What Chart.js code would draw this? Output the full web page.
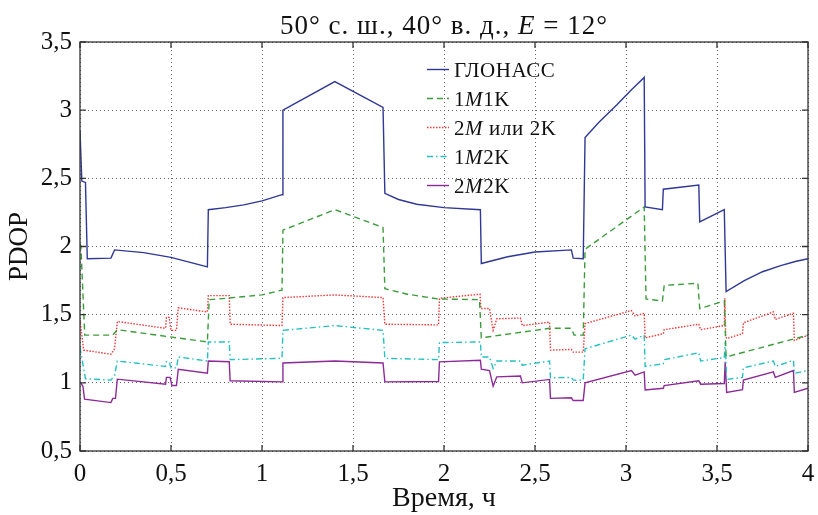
<!DOCTYPE html>
<html lang="ru">
<head>
  <meta charset="UTF-8" />
  <title>PDOP</title>
  <script src="https://cdn.jsdelivr.net/npm/chart.js"></script>
  <style>
    html, body { margin: 0; padding: 0; background: #fff; }
    #wrap { width: 818px; height: 515px; }
  </style>
</head>
<body>
  <div id="wrap"><canvas id="pdopChart" width="818" height="515"></canvas></div>

  <script>
    // time (h) and PDOP value pairs for every constellation variant
    const glonass = [
      [0, 2.85], [0.01, 2.48], [0.03, 2.47], [0.04, 1.91], [0.17, 1.915], [0.19, 1.975],
      [0.35, 1.955], [0.5, 1.92], [0.7, 1.85], [0.705, 2.27], [0.8, 2.285], [0.9, 2.305],
      [1.0, 2.335], [1.11, 2.38], [1.115, 3.0], [1.4, 3.21], [1.665, 3.02], [1.675, 2.39],
      [1.75, 2.345], [1.85, 2.31], [2.0, 2.285], [2.2, 2.27], [2.205, 1.875], [2.35, 1.925], [2.5, 1.96],
      [2.7, 1.975], [2.71, 1.915], [2.765, 1.91], [2.775, 2.8], [2.85, 2.91], [2.95, 3.04],
      [3.03, 3.15], [3.1, 3.24], [3.105, 2.29], [3.2, 2.27], [3.205, 2.42], [3.4, 2.45],
      [3.405, 2.18], [3.54, 2.27], [3.55, 1.67], [3.65, 1.75], [3.75, 1.815], [3.85, 1.86],
      [3.93, 1.89], [4.0, 1.91]
    ];
    const m1k1 = [
      [0, 2.02], [0.005, 2.0], [0.026, 1.35], [0.18, 1.35], [0.205, 1.39], [0.45, 1.345],
      [0.7, 1.30], [0.71, 1.61], [0.8, 1.62], [1.0, 1.645], [1.11, 1.68], [1.115, 2.12],
      [1.4, 2.27], [1.665, 2.14], [1.675, 1.69], [1.8, 1.65], [1.97, 1.615], [2.195, 1.61],
      [2.205, 1.33], [2.58, 1.40], [2.7, 1.40], [2.715, 1.35], [2.765, 1.35], [2.775, 1.98],
      [3.1, 2.29], [3.11, 1.615], [3.2, 1.60], [3.21, 1.715], [3.395, 1.73], [3.405, 1.545],
      [3.54, 1.60], [3.55, 1.19], [4.0, 1.35]
    ];
    const m2k2 = [
      [0, 1.46], [0.02, 1.24], [0.17, 1.21], [0.19, 1.25], [0.205, 1.45], [0.47, 1.40],
      [0.475, 1.48], [0.49, 1.48], [0.5, 1.385], [0.53, 1.385], [0.54, 1.55], [0.7, 1.52],
      [0.705, 1.64], [0.82, 1.64], [0.825, 1.43], [1.11, 1.42], [1.115, 1.625], [1.4, 1.645],
      [1.665, 1.625], [1.675, 1.43], [1.97, 1.425], [1.975, 1.62], [2.198, 1.65], [2.203, 1.545],
      [2.25, 1.545], [2.27, 1.385], [2.29, 1.47], [2.42, 1.475], [2.43, 1.42], [2.58, 1.445],
      [2.585, 1.24], [2.7, 1.245], [2.71, 1.225], [2.765, 1.225], [2.775, 1.435], [3.03, 1.53],
      [3.05, 1.49], [3.1, 1.51], [3.105, 1.33], [3.205, 1.36], [3.21, 1.39], [3.4, 1.43],
      [3.41, 1.39], [3.54, 1.42], [3.543, 1.62], [3.548, 1.34], [3.553, 1.325], [3.64, 1.36],
      [3.645, 1.44], [3.81, 1.52], [3.82, 1.465], [3.92, 1.51], [3.925, 1.31], [4.0, 1.35]
    ];
    const m1k2 = [
      [0, 1.26], [0.03, 1.03], [0.17, 1.02], [0.19, 1.055], [0.205, 1.16], [0.47, 1.12],
      [0.475, 1.155], [0.49, 1.155], [0.5, 1.11], [0.53, 1.11], [0.54, 1.19], [0.7, 1.16],
      [0.705, 1.30], [0.82, 1.30], [0.825, 1.17], [1.11, 1.18], [1.115, 1.385], [1.4, 1.42],
      [1.665, 1.385], [1.675, 1.18], [1.97, 1.17], [1.975, 1.295], [2.2, 1.30], [2.205, 1.19],
      [2.25, 1.19], [2.27, 1.105], [2.29, 1.16], [2.42, 1.16], [2.43, 1.13], [2.58, 1.16],
      [2.585, 1.037], [2.7, 1.04], [2.71, 1.02], [2.765, 1.02], [2.775, 1.25], [3.03, 1.35],
      [3.05, 1.32], [3.1, 1.35], [3.105, 1.12], [3.205, 1.14], [3.21, 1.17], [3.4, 1.22],
      [3.41, 1.16], [3.54, 1.185], [3.545, 1.30], [3.553, 1.025], [3.64, 1.04], [3.645, 1.11],
      [3.81, 1.16], [3.82, 1.12], [3.92, 1.165], [3.925, 1.07], [4.0, 1.09]
    ];
    const m2k2both = [
      [0, 1.007], [0.016, 0.975], [0.025, 0.88], [0.17, 0.855], [0.18, 0.886], [0.195, 0.886],
      [0.205, 1.027], [0.47, 0.99], [0.475, 1.04], [0.495, 1.04], [0.505, 0.98], [0.53, 0.98],
      [0.54, 1.10], [0.7, 1.07], [0.705, 1.16], [0.82, 1.155], [0.825, 1.015], [1.11, 1.007],
      [1.115, 1.146], [1.4, 1.16], [1.665, 1.146], [1.675, 1.007], [1.97, 1.01], [1.975, 1.154],
      [2.2, 1.166], [2.205, 1.10], [2.25, 1.09], [2.27, 0.976], [2.29, 1.044], [2.42, 1.05],
      [2.43, 1.0], [2.58, 1.025], [2.585, 0.886], [2.7, 0.89], [2.71, 0.87], [2.765, 0.87],
      [2.775, 1.0], [3.03, 1.09], [3.05, 1.056], [3.1, 1.08], [3.105, 0.947], [3.205, 0.96],
      [3.21, 0.98], [3.4, 1.015], [3.41, 0.99], [3.54, 0.995], [3.545, 1.155], [3.553, 0.93],
      [3.64, 0.95], [3.645, 1.02], [3.81, 1.08], [3.82, 1.04], [3.92, 1.09], [3.925, 0.93],
      [4.0, 0.96]
    ];

    const seriesLabels = ['ГЛОНАСС', '1M1K', '2M или 2K', '1M2K', '2M2K'];
    const xTicks = [0, 0.5, 1, 1.5, 2, 2.5, 3, 3.5, 4];
    const yTicks = [0.5, 1, 1.5, 2, 2.5, 3, 3.5];

    const SERIF = '"Liberation Serif", "DejaVu Serif", serif';
    const fmt = v => String(v).replace('.', ',');
    const pts = arr => arr.map(p => ({ x: p[0], y: p[1] }));

    const styles = [
      { color: '#2f3896', dash: [] },
      { color: '#3c9c3c', dash: [6, 4] },
      { color: '#f03a3a', dash: [1.5, 1.5] },
      { color: '#26c0c0', dash: [6, 3, 1.5, 3] },
      { color: '#8c2a98', dash: [] }
    ];
    const seriesData = [glonass, m1k1, m2k2, m1k2, m2k2both];

    const datasets = seriesData.map((d, i) => ({
      label: seriesLabels[i],
      data: pts(d),
      borderColor: styles[i].color,
      backgroundColor: styles[i].color,
      borderDash: styles[i].dash,
      borderWidth: 1.4,
      pointRadius: 0,
      tension: 0,
      fill: false
    }));

    // frame, inward ticks, heading and in-plot legend
    const decor = {
      id: 'decor',
      afterDraw(chart) {
        const { ctx, chartArea: a, scales } = chart;
        ctx.save();
        ctx.strokeStyle = '#333';
        ctx.lineWidth = 1.3;
        ctx.setLineDash([]);
        ctx.strokeRect(a.left, a.top, a.right - a.left, a.bottom - a.top);
        ctx.beginPath();
        xTicks.forEach(t => {
          const x = scales.x.getPixelForValue(t);
          ctx.moveTo(x, a.bottom); ctx.lineTo(x, a.bottom - 6);
          ctx.moveTo(x, a.top); ctx.lineTo(x, a.top + 6);
        });
        yTicks.forEach(t => {
          const y = scales.y.getPixelForValue(t);
          ctx.moveTo(a.left, y); ctx.lineTo(a.left + 6, y);
          ctx.moveTo(a.right, y); ctx.lineTo(a.right - 6, y);
        });
        ctx.stroke();

        // heading with italic E
        const parts = [
          ['50° с. ш., 40° в. д., ', ''],
          ['E', 'italic '],
          [' = 12°', '']
        ];
        const size = 27;
        ctx.letterSpacing = '1px';
        let total = 0;
        parts.forEach(p => { ctx.font = p[1] + size + 'px ' + SERIF; total += ctx.measureText(p[0]).width; });
        let x = (a.left + a.right) / 2 - total / 2;
        ctx.fillStyle = '#111';
        ctx.textBaseline = 'alphabetic';
        parts.forEach(p => {
          ctx.font = p[1] + size + 'px ' + SERIF;
          ctx.fillText(p[0], x, 34);
          x += ctx.measureText(p[0]).width;
        });

        // legend
        ctx.letterSpacing = '0.6px';
        chart.data.datasets.forEach((ds, i) => {
          const y = 69.5 + i * 29;
          ctx.strokeStyle = ds.borderColor;
          ctx.lineWidth = ds.borderWidth;
          ctx.setLineDash(ds.borderDash);
          ctx.beginPath();
          ctx.moveTo(427, y); ctx.lineTo(449, y);
          ctx.stroke();
          ctx.setLineDash([]);
          let tx = 454;
          ctx.fillStyle = '#111';
          const chunks = ds.label.split('M');
          chunks.forEach((c, k) => {
            ctx.font = '21px ' + SERIF;
            ctx.fillText(c, tx, y + 7);
            tx += ctx.measureText(c).width;
            if (k < chunks.length - 1) {
              ctx.font = 'italic 21px ' + SERIF;
              ctx.fillText('M', tx, y + 7);
              tx += ctx.measureText('M').width;
            }
          });
        });
        ctx.restore();
      }
    };

    new Chart(document.getElementById('pdopChart'), {
      type: 'line',
      data: { datasets },
      options: {
        responsive: false,
        animation: false,
        layout: { padding: { top: 42, right: 10, left: 0, bottom: 0 } },
        plugins: { legend: { display: false }, title: { display: false }, tooltip: { enabled: false } },
        scales: {
          x: {
            type: 'linear',
            min: 0, max: 4,
            afterFit: s => { s.height = 64; s.paddingRight = 0; s.paddingLeft = 0; },
            afterBuildTicks: s => { s.ticks = xTicks.map(v => ({ value: v })); },
            ticks: { color: '#111', padding: 8, font: { family: SERIF, size: 25 }, callback: v => fmt(v), maxRotation: 0 },
            grid: { color: '#666', lineWidth: 1, drawTicks: false },
            border: { display: false, dash: [1, 3] },
            title: { display: true, text: 'Время, ч', color: '#111', font: { family: SERIF, size: 28 }, padding: { top: 0, bottom: 0 } }
          },
          y: {
            min: 0.5, max: 3.5,
            afterFit: s => { s.width = 80; },
            afterBuildTicks: s => { s.ticks = yTicks.map(v => ({ value: v })); },
            ticks: { color: '#111', padding: 8, font: { family: SERIF, size: 25 }, callback: v => fmt(v) },
            grid: { color: '#666', lineWidth: 1, drawTicks: false },
            border: { display: false, dash: [1, 3] },
            title: { display: true, text: 'PDOP', color: '#111', font: { family: SERIF, size: 27 }, padding: { top: 4, bottom: 0 } }
          }
        }
      },
      plugins: [decor]
    });
  </script>
</body>
</html>
